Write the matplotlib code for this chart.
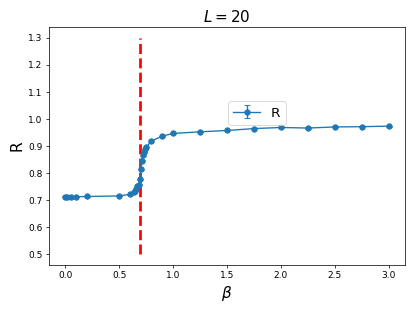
import numpy as np
import matplotlib
matplotlib.use("Agg")
import matplotlib.pyplot as plt

BETA_C = 0.693
beta = [0.0, 0.02, 0.05, 0.1, 0.2, 0.5, 0.6, 0.64, 0.65, 0.66, 0.67, 0.68, 0.69,
        0.70, 0.71, 0.72, 0.73, 0.74, 0.75, 0.8, 0.9, 1.0, 1.25, 1.5, 1.75,
        2.0, 2.25, 2.5, 2.75, 3.0]
R = [0.712, 0.712, 0.712, 0.712, 0.713, 0.715, 0.721, 0.728, 0.735, 0.742, 0.750,
     0.757, 0.777, 0.813, 0.845, 0.866, 0.877, 0.887, 0.895, 0.918, 0.936, 0.946,
     0.952, 0.957, 0.964, 0.968, 0.966, 0.970, 0.971, 0.973]
R_err = [0.002] * len(R)

fig = plt.figure(figsize=(6.4, 4.8), dpi=64.84)
ax = fig.add_axes([0.118, 0.148, 0.858, 0.765])

ax.vlines(BETA_C, 0.5, 1.3, colors="r", linestyles="--", linewidth=3)
ax.errorbar(beta, R, yerr=R_err, marker="o", capsize=3, label="R")

ax.set_title(r"$L=20$", fontsize=17)
ax.set_xlabel(r"$\beta$", fontsize=17)
ax.set_ylabel("R", fontsize=17)
ax.legend(loc="center", bbox_to_anchor=(0.584, 0.639), fontsize=15)

fig.savefig("out.png", dpi=64.84)
